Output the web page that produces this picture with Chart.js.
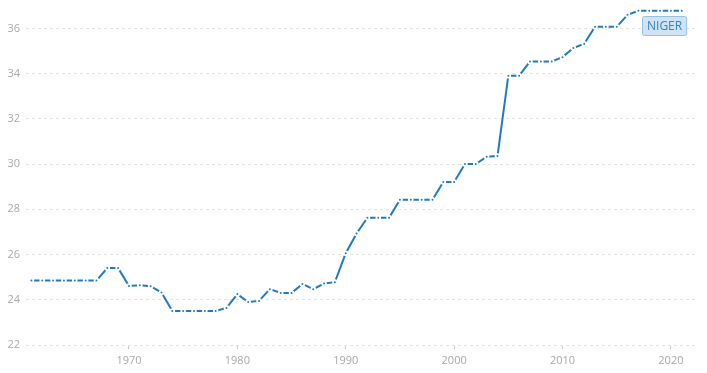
<!DOCTYPE html>
<html>
<head>
<meta charset="utf-8">
<script src="https://cdn.jsdelivr.net/npm/chart.js@4"></script>
<style>
  html, body { margin: 0; padding: 0; background: #fff; }
  #wrap { width: 707px; height: 373px; position: relative; }
</style>
</head>
<body>
<div id="wrap"><canvas id="grafico"></canvas></div>
<script>
// Dados
const anos = [];
for (let a = 1961; a <= 2021; a++) anos.push(a);

const valores = [
  24.85, 24.85, 24.85, 24.85, 24.85, 24.85, 24.85, // 1961-1967
  25.4, 25.4,                                     // 1968-1969
  24.61, 24.64, 24.6, 24.32,                      // 1970-1973
  23.5, 23.5, 23.5, 23.5, 23.5,                   // 1974-1978
  23.64, 24.25, 23.9, 23.95, 24.47, 24.3, 24.3,   // 1979-1985
  24.7, 24.47, 24.72, 24.78,                      // 1986-1989
  26.06, 26.93, 27.63, 27.63, 27.63,              // 1990-1994
  28.42, 28.42, 28.42, 28.42,                     // 1995-1998
  29.21, 29.21, 30.0, 30.0, 30.33, 30.36,         // 1999-2004
  33.91, 33.91, 34.54, 34.54, 34.54,              // 2005-2009
  34.73, 35.13, 35.32,                            // 2010-2012
  36.07, 36.07, 36.07, 36.6,                      // 2013-2016
  36.78, 36.78, 36.78, 36.78, 36.78               // 2017-2021
];

const ticksX = [1970, 1980, 1990, 2000, 2010, 2020];
const ticksY = [22, 24, 26, 28, 30, 32, 34, 36];
const rotulo = "NIGER";

const AZUL = "#1f7bbf";

// Etiqueta com o nome do país junto ao fim da linha
const etiqueta = {
  id: "etiqueta",
  afterDatasetsDraw(chart) {
    const ctx = chart.ctx;
    const sx = chart.scales.x, sy = chart.scales.y;
    const px = sx.getPixelForValue(anos[anos.length - 1]);
    const py = sy.getPixelForValue(valores[valores.length - 1]);
    ctx.save();
    ctx.font = "12px 'Open Sans', sans-serif";
    const w = ctx.measureText(rotulo).width + 9;
    const h = 19;
    const x = Math.round(px + 4 - w);
    const y = Math.round(py + 5);
    ctx.fillStyle = "#cfe3f3";
    ctx.strokeStyle = "#93c1e4";
    ctx.lineWidth = 1;
    ctx.beginPath();
    ctx.roundRect(x + 0.5, y + 0.5, w, h, 2);
    ctx.fill();
    ctx.stroke();
    ctx.fillStyle = "#3585c4";
    ctx.textAlign = "center";
    ctx.textBaseline = "middle";
    ctx.fillText(rotulo, x + 0.5 + w / 2, y + 0.5 + h / 2 + 0.5);
    ctx.restore();
  }
};

new Chart(document.getElementById("grafico"), {
  type: "line",
  data: {
    labels: anos,
    datasets: [{
      label: rotulo,
      data: anos.map((a, i) => ({ x: a, y: valores[i] })),
      borderColor: AZUL,
      borderWidth: 2,
      pointRadius: 1.9,
      pointBackgroundColor: AZUL,
      pointBorderColor: "#ffffff",
      pointBorderWidth: 1.8,
      tension: 0,
      fill: false
    }]
  },
  options: {
    responsive: true,
    maintainAspectRatio: false,
    animation: false,
    layout: { padding: { top: 4, right: 9, left: 0, bottom: 0 } },
    plugins: {
      legend: { display: false },
      tooltip: { enabled: false }
    },
    scales: {
      x: {
        type: "linear",
        min: 1960.5,
        max: 2022.5,
        afterBuildTicks: s => { s.ticks = ticksX.map(v => ({ value: v })); },
        afterFit: s => { s.height = 28; s.paddingLeft = 0; s.paddingRight = 0; },
        grid: { drawOnChartArea: false, drawTicks: true, tickLength: 4, tickColor: "#cccccc" },
        border: { display: false },
        ticks: {
          color: "#a8a8a8",
          font: { family: "'Open Sans', sans-serif", size: 11 },
          padding: 5,
          maxRotation: 0,
          callback: v => String(v)
        }
      },
      y: {
        min: 22,
        max: 37,
        afterBuildTicks: s => { s.ticks = ticksY.map(v => ({ value: v })); },
        afterFit: s => { s.width = 26; s.paddingTop = 0; s.paddingBottom = 0; },
        grid: { color: "#e3e3e3", drawTicks: false, lineWidth: 1 },
        border: { display: false, dash: [3, 3] },
        ticks: {
          color: "#a8a8a8",
          font: { family: "'Open Sans', sans-serif", size: 11 },
          padding: 6
        }
      }
    }
  },
  plugins: [etiqueta]
});
</script>
</body>
</html>
